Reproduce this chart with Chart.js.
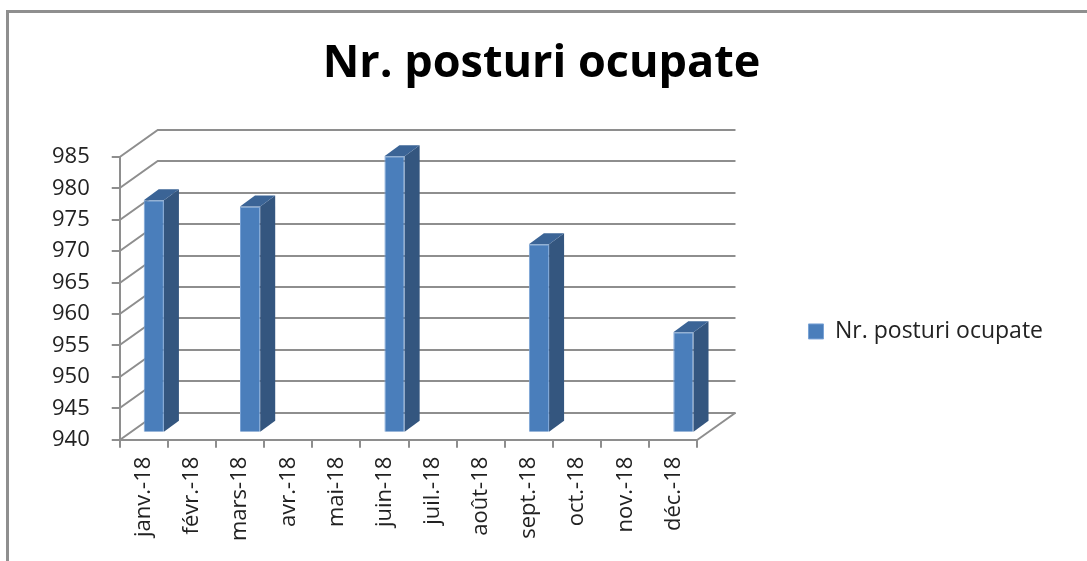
<!DOCTYPE html>
<html>
<head>
<meta charset="utf-8">
<script src="https://cdn.jsdelivr.net/npm/chart.js@4.4.1/dist/chart.umd.min.js"></script>
<style>
  html, body { margin: 0; padding: 0; background: #fff; }
  #wrap { position: relative; width: 1087px; height: 561px; }
  #frame {
    position: absolute; left: 6px; top: 10px; right: -4px; bottom: -4px;
    border-top: 3px solid #8f8f8f; border-left: 3px solid #8f8f8f;
  }
  canvas { position: absolute; left: 0; top: 0; }
</style>
</head>
<body>
<div id="wrap">
  <div id="frame"></div>
  <canvas id="chart" width="1087" height="561"></canvas>
</div>
<script>
// Données du graphique
const months = ['janv.-18', 'févr.-18', 'mars-18', 'avr.-18', 'mai-18', 'juin-18',
                'juil.-18', 'août-18', 'sept.-18', 'oct.-18', 'nov.-18', 'déc.-18'];
const posturi = [977, null, 976, null, null, 984, null, null, 970, null, null, 956];
const seriesName = 'Nr. posturi ocupate';
const chartTitle = 'Nr. posturi ocupate';
const yMin = 940;
const yMax = 985;
const yStep = 5;

const GRID = '#8e8e8e';
const DEPTH = { x: 38, y: -27 };      // profondeur du mur arrière
const BAR_SHIFT = { x: 10, y: -7 };   // position des barres dans la profondeur
const BAR_DEPTH = { x: 15, y: -11 };  // épaisseur des barres

// Faux 3D : mur arrière + faces latérales des barres
const pseudo3d = {
  id: 'pseudo3d',
  beforeDatasetsDraw(chart) {
    const { ctx, chartArea: { left, right, bottom }, scales: { y } } = chart;
    ctx.save();
    ctx.strokeStyle = GRID;
    ctx.lineWidth = 2;
    for (let v = yMin; v <= yMax; v += yStep) {
      const py = Math.round(y.getPixelForValue(v));
      ctx.beginPath();
      ctx.moveTo(left, py);
      ctx.lineTo(left + DEPTH.x, py + DEPTH.y);
      ctx.lineTo(right + DEPTH.x, py + DEPTH.y);
      ctx.stroke();
    }
    // bord droit du sol
    ctx.beginPath();
    ctx.moveTo(right, bottom);
    ctx.lineTo(right + DEPTH.x, bottom + DEPTH.y);
    ctx.stroke();
    ctx.restore();

    // on décale les barres vers le fond
    ctx.save();
    ctx.translate(BAR_SHIFT.x, BAR_SHIFT.y);
  },
  afterDatasetsDraw(chart) {
    const { ctx } = chart;
    const meta = chart.getDatasetMeta(0);
    meta.data.forEach((bar, i) => {
      if (posturi[i] == null) return;
      const { x, y, base, width } = bar.getProps(['x', 'y', 'base', 'width'], true);
      const l = x - width / 2;
      const r = x + width / 2;
      // face latérale
      ctx.fillStyle = '#34567f';
      ctx.beginPath();
      ctx.moveTo(r, y);
      ctx.lineTo(r + BAR_DEPTH.x, y + BAR_DEPTH.y);
      ctx.lineTo(r + BAR_DEPTH.x, base + BAR_DEPTH.y);
      ctx.lineTo(r, base);
      ctx.closePath();
      ctx.fill();
      // dessus
      ctx.fillStyle = '#3b6496';
      ctx.beginPath();
      ctx.moveTo(l, y);
      ctx.lineTo(l + BAR_DEPTH.x, y + BAR_DEPTH.y);
      ctx.lineTo(r + BAR_DEPTH.x, y + BAR_DEPTH.y);
      ctx.lineTo(r, y);
      ctx.closePath();
      ctx.fill();
    });
    ctx.restore();
  }
};

new Chart(document.getElementById('chart'), {
  type: 'bar',
  data: {
    labels: months,
    datasets: [{
      label: seriesName,
      data: posturi,
      base: yMin,
      backgroundColor: '#4a7ebb',
      borderColor: '#7aa3d6',
      borderWidth: 1,
      categoryPercentage: 1,
      barPercentage: 0.42,
      clip: false
    }]
  },
  options: {
    responsive: false,
    animation: false,
    events: [],
    layout: {
      padding: { left: 30, right: 34, top: 0, bottom: 11 }
    },
    plugins: {
      title: {
        display: true,
        text: chartTitle,
        color: '#000',
        font: { family: 'Open Sans', size: 45, weight: 'bold' },
        padding: { top: 37, bottom: 66 }
      },
      legend: {
        position: 'right',
        fullSize: false,
        maxWidth: 400,
        title: {
          display: true,
          text: '',
          font: { size: 1 },
          padding: { top: 0, bottom: 65 }
        },
        labels: {
          boxWidth: 15,
          boxHeight: 15,
          padding: 111,
          color: '#222',
          font: { family: 'Open Sans', size: 23 }
        }
      },
      tooltip: { enabled: false }
    },
    scales: {
      x: {
        grid: {
          drawOnChartArea: false,
          color: GRID,
          lineWidth: 2,
          tickLength: 8
        },
        border: { color: GRID, width: 2 },
        ticks: {
          color: '#222',
          autoSkip: false,
          maxRotation: 90,
          minRotation: 90,
          padding: 9,
          font: { family: 'Open Sans', size: 22 }
        }
      },
      y: {
        min: yMin,
        max: yMax,
        grid: {
          drawOnChartArea: false,
          color: GRID,
          lineWidth: 2,
          tickLength: 8
        },
        border: { color: GRID, width: 2 },
        ticks: {
          stepSize: yStep,
          color: '#222',
          padding: 22,
          font: { family: 'Open Sans', size: 22 }
        }
      }
    }
  },
  plugins: [pseudo3d]
});
</script>
</body>
</html>
